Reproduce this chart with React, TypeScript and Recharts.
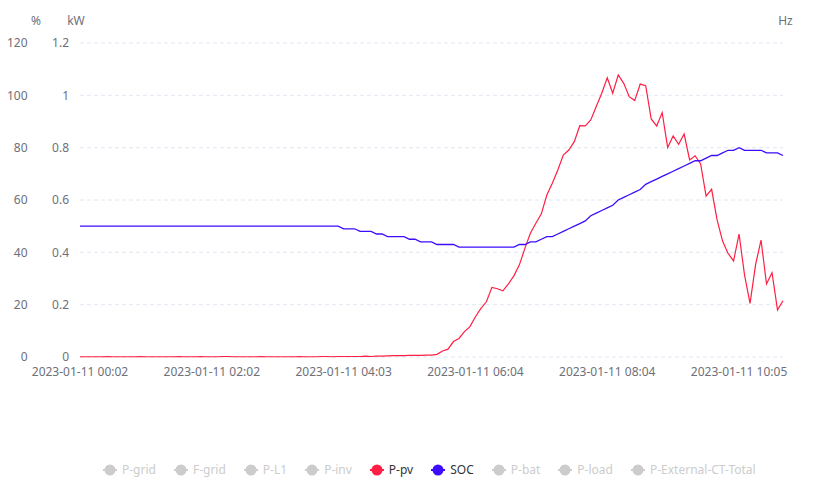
import React from 'react';
import { LineChart, Line, XAxis, YAxis, CartesianGrid } from 'recharts';

// x axis: one reading every ~5 min, a label every 24 readings
const tickIndex = [0, 24, 48, 72, 96, 120];
const tickLabels = [
  '2023-01-11 00:02',
  '2023-01-11 02:02',
  '2023-01-11 04:03',
  '2023-01-11 06:04',
  '2023-01-11 08:04',
  '2023-01-11 10:05',
];

const kwTicks = [0, 0.2, 0.4, 0.6, 0.8, 1, 1.2];
const pctTicks = [0, 20, 40, 60, 80, 100, 120];

// P-pv (kW)
const pv = [
  0.001, 0.001, 0.001, 0.001, 0.001, 0.002, 0.001, 0.001, 0.001, 0.001,
  0.001, 0.002, 0.001, 0.001, 0.001, 0.001, 0.001, 0.001, 0.002, 0.001,
  0.001, 0.001, 0.002, 0.001, 0.001, 0.001, 0.002, 0.002, 0.001, 0.001,
  0.001, 0.001, 0.001, 0.002, 0.001, 0.001, 0.001, 0.001, 0.001, 0.001,
  0.002, 0.001, 0.001, 0.001, 0.002, 0.002, 0.001, 0.002, 0.002, 0.002,
  0.002, 0.002, 0.003, 0.002, 0.003, 0.003, 0.004, 0.005, 0.005, 0.005,
  0.006, 0.006, 0.006, 0.007, 0.007,
  0.01, 0.023, 0.03, 0.059, 0.071, 0.097, 0.116, 0.154, 0.186, 0.211,
  0.266, 0.261, 0.253, 0.279, 0.31, 0.352, 0.415, 0.473, 0.511, 0.547,
  0.619, 0.664, 0.715, 0.772, 0.791, 0.823, 0.884, 0.883, 0.906, 0.957,
  1.008, 1.067, 1.008, 1.078, 1.046, 0.995, 0.98, 1.043, 1.037, 0.91,
  0.883, 0.934, 0.801, 0.845, 0.813, 0.852, 0.753, 0.769, 0.738, 0.615,
  0.641, 0.524, 0.443, 0.396, 0.367, 0.47, 0.313, 0.205, 0.352, 0.447,
  0.279, 0.322, 0.18, 0.215,
];

// SOC (%)
const soc = [
  50, 50, 50, 50, 50, 50, 50, 50, 50, 50,
  50, 50, 50, 50, 50, 50, 50, 50, 50, 50,
  50, 50, 50, 50, 50, 50, 50, 50, 50, 50,
  50, 50, 50, 50, 50, 50, 50, 50, 50, 50,
  50, 50, 50, 50, 50, 50, 50, 50, 49, 49,
  49, 48, 48, 48, 47, 47, 46, 46, 46, 46,
  45, 45, 44, 44, 44, 43, 43, 43, 43, 42,
  42, 42, 42, 42, 42, 42, 42, 42, 42, 42,
  43, 43, 44, 44, 45, 46, 46, 47, 48, 49,
  50, 51, 52, 54, 55, 56, 57, 58, 60, 61,
  62, 63, 64, 66, 67, 68, 69, 70, 71, 72,
  73, 74, 75, 75, 76, 77, 77, 78, 79, 79,
  80, 79, 79, 79, 79, 78, 78, 78, 77,
];

const legendItems = [
  { name: 'P-grid', color: '' },
  { name: 'F-grid', color: '' },
  { name: 'P-L1', color: '' },
  { name: 'P-inv', color: '' },
  { name: 'P-pv', color: '#ff1f44' },
  { name: 'SOC', color: '#3d0cff' },
  { name: 'P-bat', color: '' },
  { name: 'P-load', color: '' },
  { name: 'P-External-CT-Total', color: '' },
];

const data = pv.map((v, i) => ({ i, pv: v, soc: soc[i] }));

const axisText = '#6E7079';
const font = '"Noto Sans", sans-serif';

function unitLabel(text: string, dx: number) {
  return function UnitLabel(props: any) {
    const vb = props.viewBox || {};
    return (
      <text
        x={vb.x + dx}
        y={vb.y - 18}
        textAnchor="middle"
        fill={axisText}
        fontSize={12}
        fontFamily={font}
      >
        {text}
      </text>
    );
  };
}

function LegendIcon({ color }: { color: string }) {
  const c = color || '#ccc';
  return (
    <svg width={14} height={14} style={{ display: 'block' }}>
      <line x1={0} y1={7} x2={14} y2={7} stroke={c} strokeWidth={2} />
      <circle cx={7} cy={7} r={5.5} fill={c} />
    </svg>
  );
}

export default function App() {
  return (
    <div style={{ position: 'absolute', left: 0, top: 0, width: 822, height: 494, background: '#fff', fontFamily: font }}>
      <LineChart width={822} height={390} data={data} margin={{ top: 43, right: 0, bottom: 3, left: 0 }}>
        <CartesianGrid yAxisId="kw" vertical={false} stroke="#E0E6F1" strokeDasharray="4 3" />
        <XAxis
          dataKey="i"
          type="category"
          ticks={tickIndex}
          interval={0}
          tickFormatter={(v: number) => tickLabels[tickIndex.indexOf(v)] ?? ''}
          axisLine={false}
          tickLine={false}
          tickSize={0}
          tickMargin={10}
          tick={{ fill: axisText, fontSize: 12, fontFamily: font }}
        />
        <YAxis
          yAxisId="kw"
          domain={[0, 1.2]}
          ticks={kwTicks}
          width={40}
          axisLine={false}
          tickLine={false}
          tickSize={0}
          tickMargin={11}
          tick={{ fill: axisText, fontSize: 12, fontFamily: font }}
          label={{ content: unitLabel('kW', 36) }}
        />
        <YAxis
          yAxisId="pct"
          domain={[0, 120]}
          ticks={pctTicks}
          width={40}
          axisLine={false}
          tickLine={false}
          tickSize={0}
          tickMargin={12.5}
          tick={{ fill: axisText, fontSize: 12, fontFamily: font }}
          label={{ content: unitLabel('%', 36) }}
        />
        <YAxis
          yAxisId="hz"
          orientation="right"
          domain={[0, 1]}
          width={39}
          axisLine={false}
          tickLine={false}
          tick={false}
          label={{ content: unitLabel('Hz', 2.5) }}
        />
        <Line
          yAxisId="kw"
          type="linear"
          dataKey="pv"
          name="P-pv"
          stroke="#ff1f44"
          strokeWidth={1.2}
          dot={false}
          isAnimationActive={false}
        />
        <Line
          yAxisId="pct"
          type="linear"
          dataKey="soc"
          name="SOC"
          stroke="#3d0cff"
          strokeWidth={1.3}
          dot={false}
          isAnimationActive={false}
        />
      </LineChart>
      <div
        style={{
          position: 'absolute',
          left: 103,
          top: 463,
          display: 'flex',
          alignItems: 'center',
          fontSize: 12,
          lineHeight: '14px',
        }}
      >
        {legendItems.map((it) => (
          <div key={it.name} style={{ display: 'flex', alignItems: 'center', marginRight: 18 }}>
            <LegendIcon color={it.color} />
            <span style={{ marginLeft: 5, color: it.color ? '#333' : '#ccc' }}>{it.name}</span>
          </div>
        ))}
      </div>
    </div>
  );
}
